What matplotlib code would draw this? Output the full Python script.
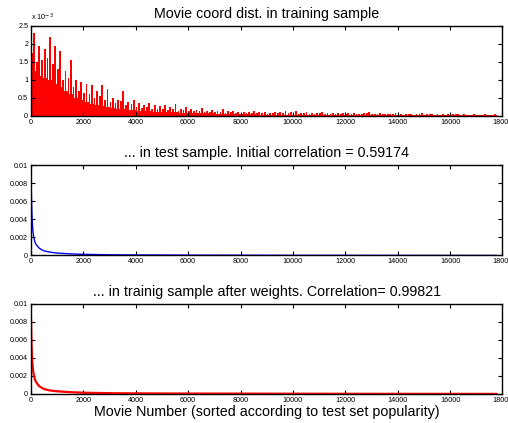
import numpy as np
import matplotlib
matplotlib.use('Agg')
from matplotlib import pyplot as plt

# training sample distribution, 200-movie bins, values in units of 1e-3
bin_width = 200
train_peak = [2.3, 1.95, 1.85, 2.2, 1.95, 1.8, 1.25, 1.55, 1.0, 0.95,
              0.9, 0.85, 0.7, 0.85, 0.75, 0.5, 0.45, 0.7, 0.4, 0.45,
              0.35, 0.3, 0.35, 0.3, 0.28, 0.3, 0.25, 0.32, 0.2, 0.25,
              0.2, 0.18, 0.22, 0.15, 0.17, 0.14, 0.2, 0.13, 0.15, 0.12,
              0.12, 0.1, 0.13, 0.1, 0.11, 0.09, 0.12, 0.1, 0.14, 0.1,
              0.15, 0.08, 0.1, 0.09, 0.08, 0.1, 0.07, 0.08, 0.07, 0.08,
              0.07, 0.08, 0.06, 0.07, 0.1, 0.06, 0.07, 0.06, 0.06, 0.07,
              0.06, 0.05, 0.06, 0.05, 0.08, 0.05, 0.06, 0.05, 0.05, 0.05,
              0.05, 0.06, 0.05, 0.04, 0.05, 0.04, 0.05, 0.04, 0.05]
train_mid = [1.75, 1.5, 1.55, 1.6, 1.45, 1.3, 1.0, 1.05, 0.8, 0.7,
             0.65, 0.6, 0.5, 0.55, 0.45, 0.38, 0.35, 0.42, 0.3, 0.32,
             0.25, 0.22, 0.24, 0.2, 0.2, 0.2, 0.18, 0.2, 0.15, 0.16,
             0.14, 0.13, 0.14, 0.11, 0.12, 0.1, 0.12, 0.09, 0.1, 0.09,
             0.08, 0.07, 0.08, 0.07, 0.07, 0.06, 0.08, 0.07, 0.09, 0.07,
             0.09, 0.06, 0.07, 0.06, 0.06, 0.07, 0.05, 0.06, 0.05, 0.06,
             0.05, 0.06, 0.045, 0.05, 0.07, 0.045, 0.05, 0.045, 0.045, 0.05,
             0.045, 0.04, 0.045, 0.04, 0.055, 0.04, 0.045, 0.04, 0.04, 0.04,
             0.04, 0.045, 0.04, 0.035, 0.04, 0.035, 0.04, 0.035, 0.04]
train_floor = [1.25, 1.1, 1.05, 1.0, 0.9, 0.8, 0.7, 0.6, 0.5, 0.45,
               0.38, 0.34, 0.3, 0.28, 0.25, 0.22, 0.2, 0.2, 0.18, 0.16,
               0.15, 0.14, 0.13, 0.12, 0.12, 0.11, 0.1, 0.1, 0.09, 0.09,
               0.08, 0.08, 0.07, 0.07, 0.07, 0.06, 0.06, 0.06, 0.05, 0.05,
               0.05, 0.05, 0.05, 0.04, 0.04, 0.04, 0.04, 0.04, 0.04, 0.04,
               0.035, 0.035, 0.035, 0.035, 0.035, 0.035, 0.035, 0.035, 0.035, 0.035,
               0.03, 0.03, 0.03, 0.03, 0.03, 0.03, 0.03, 0.03, 0.03, 0.03,
               0.03, 0.03, 0.03, 0.03, 0.03, 0.03, 0.03, 0.03, 0.03, 0.03,
               0.025, 0.025, 0.025, 0.025, 0.025, 0.025, 0.025, 0.025, 0.025]

# test sample distribution (movie index, value)
test_x = [1, 10, 20, 40, 70, 100, 150, 200, 300, 400, 500, 700, 1000,
          1500, 2000, 3000, 4000, 6000, 8000, 10000, 13000, 17770]
test_y = [0.0088, 0.0075, 0.0062, 0.0042, 0.0028, 0.0021, 0.0015, 0.0012,
          0.00085, 0.00065, 0.00052, 0.00038, 0.00027, 0.00018, 0.00013,
          0.00008, 0.00006, 0.00004, 0.00003, 0.00002, 0.000015, 0.000008]

# weighted training sample
weighted_y = [0.0083, 0.0068, 0.0055, 0.0040, 0.0029, 0.0022, 0.0016, 0.0013,
              0.0009, 0.0007, 0.00055, 0.0004, 0.0003, 0.0002, 0.00014,
              0.00009, 0.00007, 0.00005, 0.00004, 0.00003, 0.00002, 0.00001]

titles = ['Movie coord dist. in training sample',
          '... in test sample. Initial correlation = 0.59174',
          '... in trainig sample after weights. Correlation= 0.99821']
xticks = list(range(0, 18001, 2000))

plt.rcParams['font.family'] = ['Liberation Sans', 'DejaVu Sans']

fig = plt.figure(figsize=(5.08, 4.23), dpi=100)
left, width, height = 0.061, 0.928, 0.2128
bottoms = [0.7258, 0.396, 0.0686]
axes = [fig.add_axes([left, b, width, height]) for b in bottoms]

edges = np.arange(len(train_peak) + 1) * bin_width
centers = edges[:-1] + bin_width / 2
ax = axes[0]
ax.fill_between(edges, train_floor + [train_floor[-1]], step='post',
                color='red', lw=0)
ax.bar(edges[:-1] + 30, train_mid, width=60, color='red', lw=0)
ax.bar(centers + 20, train_peak, width=70, color='red', lw=0)
ax.set_ylim(0, 2.5)
ax.set_yticks([0, 0.5, 1, 1.5, 2, 2.5])
ax.set_yticklabels(['0', '0.5', '1', '1.5', '2', '2.5'])
ax.text(0, 1.03, r'x 10$^{-3}$', transform=ax.transAxes, fontsize=5.2,
        ha='left', va='bottom')

axes[1].plot(test_x, test_y, color='blue', lw=1)
axes[2].plot(test_x, weighted_y, color='red', lw=1.6)

for a in axes[1:]:
    a.set_ylim(0, 0.01)
    a.set_yticks([0, 0.002, 0.004, 0.006, 0.008, 0.01])
    a.set_yticklabels(['0', '0.002', '0.004', '0.006', '0.008', '0.01'])

for a, t in zip(axes, titles):
    a.set_xlim(0, 18000)
    a.set_xticks(xticks)
    a.set_xticklabels([str(v) for v in xticks])
    a.set_title(t, fontsize=10.3, pad=6)
    a.tick_params(direction='in', length=3, width=0.8, labelsize=5.2,
                  top=True, right=True, pad=2)
    for s in a.spines.values():
        s.set_linewidth(1.0)

axes[2].set_xlabel('Movie Number (sorted according to test set popularity)',
                   fontsize=10.3, labelpad=1)

fig.savefig('out.png', dpi=100)
